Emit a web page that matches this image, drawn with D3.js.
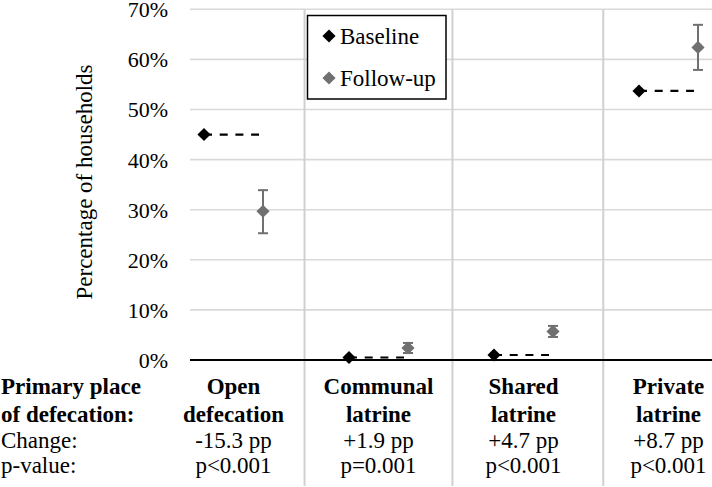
<!DOCTYPE html>
<html><head><meta charset="utf-8">
<script src="https://cdn.jsdelivr.net/npm/d3@7"></script>
<style>
html,body{margin:0;padding:0;background:#fff;}
svg{display:block;}
svg text{font-family:'Liberation Serif','Times New Roman',Times,'DejaVu Serif',serif !important;}
</style></head>
<body><svg id="c" width="712" height="487" font-family="Liberation Serif"></svg>
<script>
const categories = ["Open defecation","Communal latrine","Shared latrine","Private latrine"];
const labelLine1 = ["Open","Communal","Shared","Private"];
const labelLine2 = ["defecation","latrine","latrine","latrine"];
const baseline = [45.0, 0.5, 1.0, 53.7];
const followUp = [29.7, 2.4, 5.7, 62.4];
const followLow = [25.3, 1.4, 4.6, 57.9];
const followHigh = [33.9, 3.4, 6.8, 66.9];
const changes = ["-15.3 pp","+1.9 pp","+4.7 pp","+8.7 pp"];
const pvalues = ["p<0.001","p=0.001","p<0.001","p<0.001"];
const yTicks = [0,10,20,30,40,50,60,70];
const separators = [0.49, 1.51, 2.55];
const rowHeads = [["Primary place", true],["of defecation:", true],["Change:", false],["p-value:", false]];

const FONT = "Liberation Serif";
const svg = d3.select("#c");
const plotLeft = 190, plotRight = 712;
const y = d3.scaleLinear().domain([0,70]).range([360, 9.3]);
const x = d3.scaleLinear().domain([0,3]).range([233.5, 668.5]);
const off = 29.5;

// gridlines
svg.append("g").selectAll("line").data(yTicks.filter(t=>t>0)).join("line")
  .attr("x1",plotLeft).attr("x2",plotRight).attr("y1",d=>y(d)).attr("y2",d=>y(d))
  .attr("stroke","#d9d9d9").attr("stroke-width",1.6);

// separators
svg.append("g").selectAll("line").data(separators).join("line")
  .attr("x1",d=>x(d)).attr("x2",d=>x(d)).attr("y1",y(70)).attr("y2",486)
  .attr("stroke","#d0d0d0").attr("stroke-width",2);

// y axis labels
const yAxis = d3.axisLeft(y).tickValues(yTicks).tickFormat(d=>d+"%").tickSize(0).tickPadding(0);
const ga = svg.append("g").attr("transform","translate(168,0)").call(yAxis)
  .attr("font-family",FONT).attr("font-size",22);
ga.select(".domain").remove();
ga.selectAll("text").attr("fill","#000").attr("dy","0.34em");

// zero axis line
svg.append("line").attr("x1",plotLeft).attr("x2",plotRight).attr("y1",y(0)).attr("y2",y(0))
  .attr("stroke","#000").attr("stroke-width",2);

// y title
svg.append("text").attr("transform","translate(92,182) rotate(-90)")
  .attr("text-anchor","middle").attr("font-family",FONT).attr("font-size",23).text("Percentage of households");

// dashed lines
svg.append("g").selectAll("line").data(categories).join("line")
  .attr("x1",(d,i)=>x(i)-off).attr("x2",(d,i)=>x(i)+off-4)
  .attr("y1",(d,i)=>y(baseline[i])).attr("y2",(d,i)=>y(baseline[i]))
  .attr("stroke","#000").attr("stroke-width",2.2).attr("stroke-dasharray","8,7.7");

// error bars
const eb = svg.append("g").attr("stroke","#707070").attr("stroke-width",2);
categories.forEach((c,i)=>{
  const cx = x(i)+off;
  eb.append("line").attr("x1",cx).attr("x2",cx).attr("y1",y(followLow[i])).attr("y2",y(followHigh[i]));
  eb.append("line").attr("x1",cx-5).attr("x2",cx+5).attr("y1",y(followLow[i])).attr("y2",y(followLow[i]));
  eb.append("line").attr("x1",cx-5).attr("x2",cx+5).attr("y1",y(followHigh[i])).attr("y2",y(followHigh[i]));
});

const diamond = d3.symbol().type(d3.symbolDiamond2).size(110);
svg.append("g").selectAll("path").data(categories).join("path")
  .attr("d",diamond).attr("fill","#000")
  .attr("transform",(d,i)=>`translate(${x(i)-off},${y(baseline[i])})`);
svg.append("g").selectAll("path").data(categories).join("path")
  .attr("d",diamond).attr("fill","#707070")
  .attr("transform",(d,i)=>`translate(${x(i)+off},${y(followUp[i])})`);

// legend
const lg = svg.append("g");
lg.append("rect").attr("x",307.5).attr("y",15.5).attr("width",138.5).attr("height",83.5)
  .attr("fill","#fff").attr("stroke","#000").attr("stroke-width",1.5);
const legendItems = [["Baseline","#000",36],["Follow-up","#707070",78]];
legendItems.forEach(([t,col,ly])=>{
  lg.append("path").attr("d",diamond).attr("fill",col).attr("transform",`translate(329,${ly})`);
  lg.append("text").attr("x",340).attr("y",ly+8).attr("font-family",FONT).attr("font-size",23).text(t);
});

// bottom table
const rowY = [394, 421.5, 448, 473];
rowHeads.forEach(([t,b],r)=>{
  svg.append("text").attr("x",1).attr("y",rowY[r]).attr("font-family",FONT).attr("font-size",23)
    .attr("font-weight",b?"bold":"normal").text(t);
});
const rows = [labelLine1,labelLine2,changes,pvalues];
rows.forEach((arr,r)=>{
  svg.append("g").selectAll("text").data(arr).join("text")
    .attr("x",(d,i)=>x(i)).attr("y",rowY[r]).attr("text-anchor","middle").attr("font-family",FONT)
    .attr("font-size",23).attr("font-weight",r<2?"bold":"normal").text(d=>d);
});
</script></body></html>
